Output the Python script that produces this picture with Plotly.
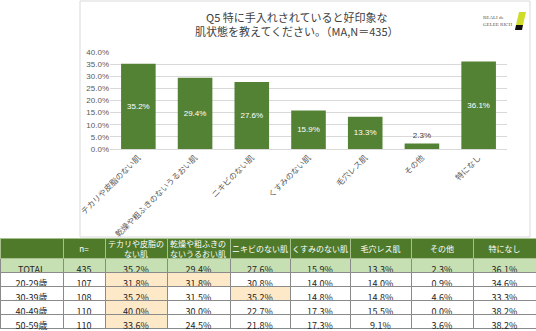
import plotly.graph_objects as go

# ---- data ----
categories = ["テカリや皮脂のない肌", "乾燥や粗ふきのないうるおい肌", "ニキビのない肌",
              "くすみのない肌", "毛穴レス肌", "その他", "特になし"]
header_labels = ["", "n=", "テカリや皮脂の<br>ない肌", "乾燥や粗ふきの<br>ないうるおい肌",
                 "ニキビのない肌", "くすみのない肌", "毛穴レス肌", "その他", "特になし"]
row_labels = ["TOTAL", "20-29歳", "30-39歳", "40-49歳", "50-59歳"]
row_n = [435, 107, 108, 110, 110]
total_pct = [35.2, 29.4, 27.6, 15.9, 13.3, 2.3, 36.1]
age_20s = [31.8, 31.8, 30.8, 14.0, 14.0, 0.9, 34.6]
age_30s = [35.2, 31.5, 35.2, 14.8, 14.8, 4.6, 33.3]
age_40s = [40.0, 30.0, 22.7, 17.3, 15.5, 0.0, 38.2]
age_50s = [33.6, 24.5, 21.8, 17.3, 9.1, 3.6, 38.2]
y_ticks = [0, 5, 10, 15, 20, 25, 30, 35, 40]

rows = [total_pct, age_20s, age_30s, age_40s, age_50s]

W, H = 536, 331
def px(x):
    return x / W
def py(y):
    return 1 - y / H

GREEN = "#548235"
HEAD = "#4f7a2a"
TOTAL_FILL = "#c6e0b4"
HIGHLIGHT = "#fde9c8"
col_widths = [63, 42, 62, 63, 60, 60, 61, 62, 63]
TABLE_TOP = 238
HEADER_H = 20

fig = go.Figure()

# bar chart
text_pos = ["outside" if v < 5 else "inside" for v in total_pct]
fig.add_trace(go.Bar(
    x=categories, y=total_pct,
    marker=dict(color=GREEN, line=dict(width=0)),
    text=[f"{v:.1f}%" for v in total_pct],
    textposition=text_pos,
    insidetextanchor="middle",
    insidetextfont=dict(color="white", size=8, family="Liberation Sans"),
    outsidetextfont=dict(color="#404040", size=8, family="Liberation Sans"),
    textangle=0,
    cliponaxis=False,
    hoverinfo="skip",
))

# table
cols_vals = [row_labels, [str(n) for n in row_n]]
cols_fill = [[TOTAL_FILL] + ["white"] * 4, [TOTAL_FILL] + ["white"] * 4]
for ci in range(len(categories)):
    cols_vals.append([f"{r[ci]:.1f}%" for r in rows])
    fills = [TOTAL_FILL]
    for r in rows[1:]:
        top = max(r[:6])
        fills.append(HIGHLIGHT if (ci < 6 and r[ci] == top) else "white")
    cols_fill.append(fills)

# single-line header labels go in the table; wrapped ones are overlaid as annotations
header_single = [h if "<br>" not in h else "" for h in header_labels]

fig.add_trace(go.Table(
    domain=dict(x=[0, 1], y=[py(330), py(TABLE_TOP)]),
    columnwidth=col_widths,
    header=dict(
        values=header_single,
        fill_color=HEAD,
        line=dict(color="#a9c08f", width=1),
        font=dict(color="white", size=8, family="Noto Sans CJK JP"),
        align="center", height=HEADER_H,
    ),
    cells=dict(
        values=cols_vals,
        fill_color=cols_fill,
        line=dict(color="#8a8a8a", width=1),
        font=dict(color="#262626", size=9, family="Noto Sans CJK JP"),
        align="center", height=14,
    ),
))

annotations = [
    dict(text="Q5 特に手入れされていると好印象な<br>肌状態を教えてください。（MA,N＝435）",
         x=px(297), y=py(23.5), xref="paper", yref="paper",
         showarrow=False, xanchor="center", yanchor="middle",
         font=dict(size=11, color="#404040", family="Noto Sans CJK JP")),
    dict(text="REALI de<br>GELEE RICH",
         x=px(481), y=py(21), xref="paper", yref="paper",
         showarrow=False, xanchor="left", yanchor="middle", align="left",
         font=dict(size=5, color="#555555", family="Liberation Serif")),
]
total_w = sum(col_widths)
left = 0
for w, h in zip(col_widths, header_labels):
    if "<br>" in h:
        annotations.append(dict(
            text=h, x=(left + w / 2) / total_w, y=py(TABLE_TOP + HEADER_H / 2),
            xref="paper", yref="paper", showarrow=False,
            xanchor="center", yanchor="middle", align="center",
            font=dict(size=8, color="white", family="Noto Sans CJK JP"),
        ))
    left += w

fig.update_layout(
    width=W, height=H,
    margin=dict(l=0, r=0, t=0, b=0),
    paper_bgcolor="white", plot_bgcolor="white",
    showlegend=False,
    bargap=0.39,
    font=dict(family="Noto Sans CJK JP"),
    xaxis=dict(
        domain=[px(110), px(507)],
        tickangle=-45,
        tickfont=dict(size=8, color="#595959"),
        showline=True, linecolor="#d9d9d9", linewidth=1,
        ticks="", automargin=False, fixedrange=True,
    ),
    yaxis=dict(
        domain=[py(149), py(52)],
        range=[0, 40],
        tickvals=y_ticks,
        ticktext=[f"{v:.1f}%" for v in y_ticks],
        tickfont=dict(size=8, color="#595959", family="Liberation Sans"),
        showgrid=True, gridcolor="#d9d9d9", gridwidth=1,
        zeroline=False, showline=False, ticks="",
        automargin=False, fixedrange=True,
    ),
    shapes=[
        dict(type="rect", xref="paper", yref="paper",
             x0=px(80), x1=px(530), y0=py(237), y1=py(1),
             line=dict(color="#d9d9d9", width=1), fillcolor="rgba(0,0,0,0)", layer="below"),
        dict(type="path", xref="paper", yref="paper",
             path=f"M {px(519)} {py(12)} L {px(526)} {py(12)} L {px(523)} {py(25)} L {px(516)} {py(25)} Z",
             fillcolor="#cfdc2a", line=dict(width=0)),
        dict(type="path", xref="paper", yref="paper",
             path=f"M {px(516)} {py(25)} L {px(523)} {py(25)} L {px(522)} {py(30)} L {px(515)} {py(30)} Z",
             fillcolor="#111111", line=dict(width=0)),
    ],
    annotations=annotations,
)

fig.write_html("out.html")
